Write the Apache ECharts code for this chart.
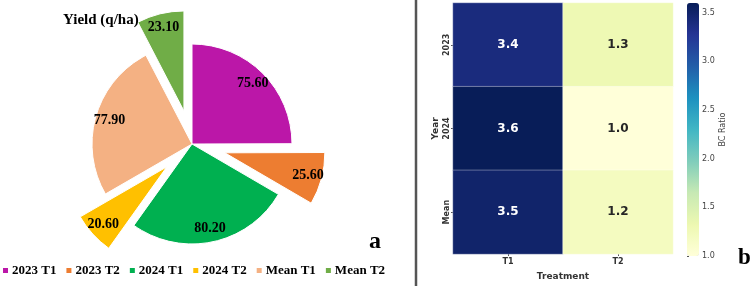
<!DOCTYPE html>
<html>
<head>
<meta charset="utf-8">
<script src="https://cdn.jsdelivr.net/npm/echarts@6/dist/echarts.min.js"></script>
<style>
html, body { margin: 0; padding: 0; background: #fff; }
#main { width: 750px; height: 286px; }
</style>
</head>
<body>
<div id="main"></div>
<script>
// pie (a) data
const pieNames = ['2023 T1', '2023 T2', '2024 T1', '2024 T2', 'Mean T1', 'Mean T2']
const pieValues = [75.6, 25.6, 80.2, 20.6, 77.9, 23.1]
const pieColors = ['#bb17a8', '#ed7d31', '#00b050', '#ffc000', '#f4b183', '#70ad47']
const explodedNames = ['2023 T2', '2024 T2', 'Mean T2']

// heatmap (b) data
const treatments = ['T1', 'T2']
const years = ['2023', '2024', 'Mean']
const bcT1 = [3.4, 3.6, 3.5]
const bcT2 = [1.3, 1.0, 1.2]
const ylGnBu = ['#ffffd9', '#edf8b1', '#c7e9b4', '#7fcdbb', '#41b6c4', '#1d91c0', '#225ea8', '#253494', '#081d58']

const serif = '"Liberation Serif", "Times New Roman", serif'
const sans = '"DejaVu Sans", sans-serif'

const pieData = pieNames.map((n, i) => ({
    name: n,
    value: pieValues[i],
    selected: explodedNames.includes(n),
    itemStyle: { color: pieColors[i] }
}))

// white text on the dark cells
const heatData = []
years.forEach((y, i) => {
    [bcT1[i], bcT2[i]].forEach((v, j) => {
        heatData.push({ value: [j, i, v], label: { color: v > 2.3 ? '#fff' : '#262626' } })
    })
})

const myEcharts = echarts.init(document.getElementById('main'))
const option = {
    animation: false,
    title: [
        { text: 'Yield (q/ha)', left: 58, top: 8, textStyle: { fontFamily: serif, fontSize: 15, fontWeight: 'bold', color: '#000' } },
        { text: 'a', left: 364, top: 225, textStyle: { fontFamily: serif, fontSize: 24, fontWeight: 'bold', color: '#000' } },
        { text: 'b', left: 733, top: 242, textStyle: { fontFamily: serif, fontSize: 23, fontWeight: 'bold', color: '#000' } }
    ],
    legend: {
        data: pieNames,
        left: 1,
        top: 264,
        padding: 0,
        icon: 'rect',
        itemWidth: 7,
        itemHeight: 7,
        itemGap: 8,
        selectedMode: false,
        textStyle: { fontFamily: serif, fontSize: 13, fontWeight: 'bold', color: '#000', padding: [0, 0, 0, -2] }
    },
    grid: [
        { left: 453, top: 3, width: 220, height: 253 },
        { left: 687, top: 3, width: 12, height: 253 }
    ],
    xAxis: [
        {
            gridIndex: 0, type: 'category', data: treatments,
            name: 'Treatment', nameLocation: 'middle', nameGap: 18,
            nameTextStyle: { fontFamily: sans, fontSize: 9, fontWeight: 'bold', color: '#333' },
            axisLine: { show: false },
            axisTick: { show: true, length: 2, alignWithLabel: true, lineStyle: { color: '#555' } },
            axisLabel: { fontFamily: sans, fontSize: 8, fontWeight: 'bold', color: '#333', margin: 4 }
        },
        { gridIndex: 1, type: 'value', show: false }
    ],
    yAxis: [
        {
            gridIndex: 0, type: 'category', data: years, inverse: true,
            name: 'Year', nameLocation: 'middle', nameGap: 13, nameRotate: 90,
            nameTextStyle: { fontFamily: sans, fontSize: 9, fontWeight: 'bold', color: '#333' },
            axisLine: { show: false },
            axisTick: { show: true, length: 2, alignWithLabel: true, lineStyle: { color: '#555' } },
            axisLabel: { rotate: 90, fontFamily: sans, fontSize: 8, fontWeight: 'bold', color: '#333', margin: 2 }
        },
        {
            gridIndex: 1, type: 'value', position: 'right', min: 1.0, max: 3.6, interval: 0.5,
            name: 'BC Ratio', nameLocation: 'middle', nameGap: 17, nameRotate: 90,
            nameTextStyle: { fontFamily: sans, fontSize: 8, color: '#444' },
            axisLine: { show: false },
            splitLine: { show: false },
            axisTick: { show: true, length: 2, lineStyle: { color: '#555' } },
            axisLabel: { fontFamily: sans, fontSize: 8, color: '#444', margin: 3, showMaxLabel: false, formatter: v => v.toFixed(1) }
        }
    ],
    visualMap: {
        type: 'continuous',
        seriesIndex: 2,
        min: 1.0,
        max: 3.6,
        calculable: false,
        orient: 'vertical',
        left: 687,
        top: 3,
        itemWidth: 12,
        itemHeight: 253,
        padding: 0,
        text: ['', ''],
        textGap: 0,
        inRange: { color: ylGnBu }
    },
    graphic: [
        { type: 'line', shape: { x1: 416, y1: 0, x2: 416, y2: 286 }, style: { stroke: '#555', lineWidth: 2.5 } }
    ],
    series: [
        {
            type: 'pie',
            center: [192, 144],
            radius: [0, 100],
            startAngle: 90,
            clockwise: true,
            selectedMode: 'multiple',
            selectedOffset: 34,
            silent: true,
            itemStyle: { borderColor: '#fff', borderWidth: 1 },
            label: { show: false },
            labelLine: { show: false },
            data: pieData
        },
        {
            // label ring: transparent sectors, labels sit at ~0.83 of the visible radius
            type: 'pie',
            center: [192, 144],
            radius: [0, 166],
            startAngle: 90,
            clockwise: true,
            selectedMode: 'multiple',
            selectedOffset: 34,
            silent: true,
            itemStyle: { color: 'rgba(0,0,0,0)' },
            label: {
                show: true, position: 'inside',
                formatter: p => p.value.toFixed(2),
                fontFamily: serif, fontSize: 14, fontWeight: 'bold', color: '#000'
            },
            labelLine: { show: false },
            data: pieNames.map((n, i) => ({ name: n, value: pieValues[i], selected: explodedNames.includes(n) }))
        },
        {
            type: 'heatmap',
            xAxisIndex: 0,
            yAxisIndex: 0,
            data: heatData,
            itemStyle: { borderColor: 'rgba(255,255,255,0.7)', borderWidth: 0.5 },
            label: {
                show: true,
                formatter: p => p.value[2].toFixed(1),
                fontFamily: sans, fontSize: 12, fontWeight: 'bold'
            }
        }
    ]
}
myEcharts.setOption(option)
window.addEventListener('resize', () => {
    myEcharts.resize()
})
</script>
</body>
</html>
